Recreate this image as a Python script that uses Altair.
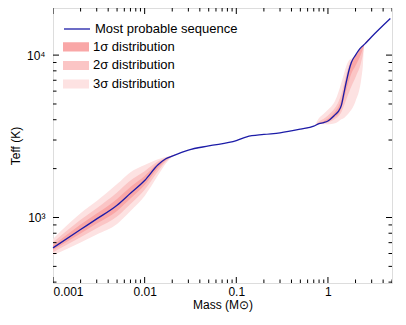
import altair as alt
import pandas as pd

# ---------------- data ----------------
mass = [0.001, 0.002, 0.003, 0.005, 0.007, 0.01, 0.014, 0.017, 0.02, 0.03,
        0.05, 0.1, 0.13, 0.2, 0.3, 0.5, 0.7, 0.8, 0.9, 1.0,
        1.2, 1.3, 1.4, 1.5, 1.6, 1.7, 1.8, 2.0, 2.3, 2.4,
        2.5, 3.0, 4.8]

t_line = [650, 843, 980, 1190, 1410, 1690, 2110, 2300, 2390, 2600,
          2760, 2970, 3140, 3245, 3320, 3500, 3650, 3780, 3840, 3930,
          4300, 4500, 4900, 5900, 7000, 8100, 9000, 10000, 11150, 11400,
          11640, 12970, 16800]

s3_lo = [586, 701, 787, 913, 1095, 1357, 1817, 2147, 2363, 2600,
         2760, 2970, 3140, 3245, 3320, 3500, 3650, 3760, 3750, 3740,
         3800, 3900, 4020, 4100, 4250, 4420, 4600, 5200, 7000, 8500,
         11640, 12970, 16800]
s3_hi = [738, 1061, 1262, 1605, 1902, 2104, 2287, 2354, 2418, 2600,
         2760, 2970, 3140, 3245, 3320, 3500, 3650, 4100, 4350, 4600,
         5250, 5900, 6750, 7700, 8700, 9300, 9500, 10100, 11150, 11400,
         11640, 12970, 16800]

s2_lo = [611, 755, 860, 1015, 1211, 1482, 1929, 2207, 2374, 2600,
         2760, 2970, 3140, 3245, 3320, 3500, 3650, 3775, 3810, 3850,
         4050, 4200, 4450, 4900, 5400, 5900, 6400, 7300, 9000, 10000,
         11640, 12970, 16800]
s2_hi = [701, 968, 1141, 1425, 1688, 1927, 2216, 2332, 2407, 2600,
         2760, 2970, 3140, 3245, 3320, 3500, 3650, 3900, 4050, 4250,
         4750, 5150, 5750, 6700, 7800, 8700, 9250, 10050, 11150, 11400,
         11640, 12970, 16800]

s1_lo = [631, 798, 918, 1098, 1307, 1584, 2015, 2253, 2380, 2600,
         2760, 2970, 3140, 3245, 3320, 3500, 3650, 3780, 3830, 3900,
         4180, 4350, 4700, 5400, 6200, 7000, 7700, 8600, 10200, 10900,
         11640, 12970, 16800]
s1_hi = [674, 904, 1057, 1302, 1543, 1803, 2159, 2316, 2400, 2600,
         2760, 2970, 3140, 3245, 3320, 3500, 3650, 3820, 3920, 4050,
         4500, 4800, 5300, 6300, 7400, 8400, 9100, 10020, 11150, 11400,
         11640, 12970, 16800]

series_name = "Most probable sequence"
band_names = ["1σ distribution", "2σ distribution", "3σ distribution"]
band_colors = ["#f9a7a7", "#fbc5c5", "#fde2e2"]
line_color = "#1c1ca8"

x_major = [0.001, 0.01, 0.1, 1]
x_major_labels = ["0.001", "0.01", "0.1", "1"]
x_minor = [0.002, 0.003, 0.004, 0.005, 0.006, 0.007, 0.008, 0.009,
           0.02, 0.03, 0.04, 0.05, 0.06, 0.07, 0.08, 0.09,
           0.2, 0.3, 0.4, 0.5, 0.6, 0.7, 0.8, 0.9,
           2, 3, 4, 5]

y_major = [1000, 10000]
y_major_labels = ["10³", "10⁴"]
y_minor = [400, 500, 600, 700, 800, 900,
           2000, 3000, 4000, 5000, 6000, 7000, 8000, 9000]

x_domain = [0.001, 5]
y_domain = [395, 19500]

# ---------------- tables ----------------
line_df = pd.DataFrame({"mass": mass, "teff": t_line, "series": series_name})
rows = []
for name, lo, hi in [(band_names[2], s3_lo, s3_hi),
                     (band_names[1], s2_lo, s2_hi),
                     (band_names[0], s1_lo, s1_hi)]:
    for m, l, h in zip(mass, lo, hi):
        rows.append({"mass": m, "lo": l, "hi": h, "level": name})
band_df = pd.DataFrame(rows)

xtick_df = pd.DataFrame({"mass": x_major + x_minor,
                         "major": [True] * len(x_major) + [False] * len(x_minor)})
ytick_df = pd.DataFrame({"teff": y_major + y_minor,
                         "major": [True] * len(y_major) + [False] * len(y_minor)})

FONT = "Liberation Sans"
W, H = 339, 275

x_label_expr = " : ".join(
    f"datum.value == {v} ? '{s}'" for v, s in zip(x_major, x_major_labels)) + " : ''"
y_label_expr = " : ".join(
    f"datum.value == {v} ? '{s}'" for v, s in zip(y_major, y_major_labels)) + " : ''"

x_scale = alt.Scale(type="log", domain=x_domain, nice=False)
y_scale = alt.Scale(type="log", domain=y_domain, nice=False)

common_axis = dict(grid=False, domain=False, ticks=False,
                   labelFont=FONT, labelFontSize=12, labelColor="black",
                   titleFont=FONT, titleFontSize=12, titleFontWeight="normal",
                   titleColor="black", labelOverlap=False)

x_axis = alt.Axis(values=x_major, labelExpr=x_label_expr, labelPadding=3,
                  title="Mass (M⊙)", titlePadding=2.5, **common_axis)
y_axis = alt.Axis(values=y_major, labelExpr=y_label_expr, labelPadding=8,
                  title="Teff (K)", titlePadding=4, **common_axis)

fill_scale = alt.Scale(domain=band_names, range=band_colors)
fill_legend = alt.Legend(title=None, orient="none", legendX=10, legendY=30,
                         symbolType="M-1,-0.35H1V0.35H-1Z", symbolSize=676,
                         symbolStrokeWidth=0, symbolOpacity=1,
                         labelFont=FONT, labelFontSize=13, labelColor="black",
                         labelOffset=4, rowPadding=0.6, clipHeight=17.7, padding=0)
stroke_legend = alt.Legend(title=None, orient="none", legendX=10, legendY=7,
                           symbolType="stroke", symbolSize=676, symbolStrokeWidth=1.3,
                           labelFont=FONT, labelFontSize=13, labelColor="black",
                           labelOffset=4, padding=0)


def band_layer(name, first):
    return alt.Chart(band_df).transform_filter(
        alt.datum.level == name
    ).mark_area(opacity=1, strokeWidth=0, interpolate="monotone").encode(
        x=alt.X("mass:Q", scale=x_scale, axis=x_axis if first else None),
        y=alt.Y("lo:Q", scale=y_scale, axis=y_axis if first else None),
        y2="hi:Q",
        fill=alt.Fill("level:N", scale=fill_scale, legend=fill_legend),
    )


b3 = band_layer(band_names[2], True)
b2 = band_layer(band_names[1], False)
b1 = band_layer(band_names[0], False)

line = alt.Chart(line_df).mark_line(strokeWidth=1.3, interpolate="monotone").encode(
    x=alt.X("mass:Q", scale=x_scale, axis=None),
    y=alt.Y("teff:Q", scale=y_scale, axis=None),
    stroke=alt.Stroke("series:N", scale=alt.Scale(domain=[series_name], range=[line_color]),
                      legend=stroke_legend),
)

# inward tick marks on all four sides (half of each centred tick is clipped away)
tick_len = alt.condition(alt.datum.major, alt.value(12), alt.value(7))


def x_ticks_at(ypix):
    return alt.Chart(xtick_df).mark_tick(orient="vertical", thickness=1, color="black",
                                         clip=True, opacity=1).encode(
        x=alt.X("mass:Q", scale=x_scale, axis=None),
        y=alt.value(ypix),
        size=tick_len,
    )


def y_ticks_at(xpix):
    return alt.Chart(ytick_df).mark_tick(orient="horizontal", thickness=1, color="black",
                                         clip=True, opacity=1).encode(
        y=alt.Y("teff:Q", scale=y_scale, axis=None),
        x=alt.value(xpix),
        size=tick_len,
    )


chart = alt.layer(
    b3, b2, b1, line,
    x_ticks_at(H), x_ticks_at(0), y_ticks_at(0), y_ticks_at(W),
).resolve_axis(
    x="independent", y="independent"
).properties(
    width=W, height=H,
    autosize=alt.AutoSizeParams(type="none"),
    padding={"left": 45, "top": 0, "right": 6, "bottom": 34},
).configure_view(stroke="black", strokeWidth=1).configure(background="white")

chart.save("out.html", embed_options={"renderer": "svg", "actions": False})
